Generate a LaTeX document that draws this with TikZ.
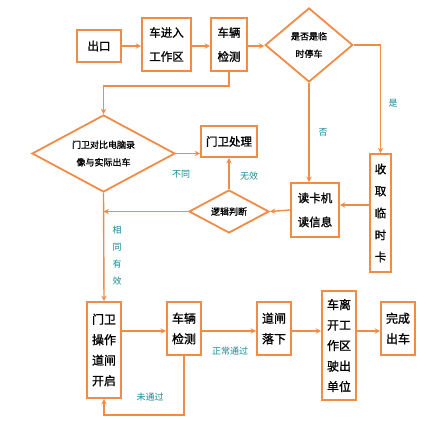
\documentclass[tikz,border=0pt]{standalone}
\usepackage{fontspec}
\setmainfont{Noto Sans CJK SC}[FakeBold=1.2]
\newfontfamily\lblfont{Noto Sans CJK SC}
\usetikzlibrary{shapes.geometric}
\definecolor{lineorange}{RGB}{240,140,70}
\definecolor{labelteal}{RGB}{20,140,150}

\begin{document}
\begin{tikzpicture}[x=1pt, y=-1pt, >=stealth,
  box/.style={draw=lineorange, line width=1.8pt, fill=white, inner sep=0pt,
    align=center, font=\fontsize{11.5}{24}\selectfont},
  tallbox/.style={box, font=\fontsize{12}{20.5}\selectfont},
  decision/.style={diamond, aspect=2, draw=lineorange, line width=1.8pt,
    fill=white, inner sep=0pt, align=center, font=\fontsize{9}{17.5}\selectfont},
  flow/.style={draw=lineorange, line width=1.4pt},
  lbl/.style={text=labelteal, font=\lblfont\fontsize{9}{11}\selectfont, align=center}]
  \fill[white] (0,0) rectangle (443,422);
  \useasboundingbox (0,0) rectangle (443,422);
  % top row
  \node[box, minimum width=44pt, minimum height=32pt] (exit) at (99,46) {出口};
  \node[box, minimum width=49pt, minimum height=53pt] (enter) at (166.5,44.5) {车进入\\工作区};
  \node[box, minimum width=36pt, minimum height=53pt] (check1) at (229,44.5) {车辆\\检测};
  \node[decision, minimum width=82pt, minimum height=74pt] (temp) at (309,45) {是否是临\\时停车};
  % middle
  \node[box, minimum width=21pt, minimum height=118pt, font=\fontsize{11.5}{22}\selectfont] (card) at (380.5,213) {收\\取\\临\\时\\卡};
  \node[box, minimum width=48pt, minimum height=54pt] (reader) at (315,210) {读卡机\\读信息};
  \node[decision, minimum width=80pt, minimum height=43pt] (logic) at (229,211.5) {逻辑判断};
  \node[box, minimum width=56pt, minimum height=31pt] (guard) at (229,141.5) {门卫处理};
  \node[decision, minimum width=143pt, minimum height=77pt] (compare) at (103.5,153.5) {门卫对比电脑录\\像与实际出车};
  % bottom row
  \node[tallbox, minimum width=34pt, minimum height=96pt] (gate) at (104,350) {门卫\\操作\\道闸\\开启};
  \node[tallbox, minimum width=34pt, minimum height=53pt] (check2) at (184,328.5) {车辆\\检测};
  \node[tallbox, minimum width=34pt, minimum height=53pt] (drop) at (274,328.5) {道闸\\落下};
  \node[tallbox, minimum width=34pt, minimum height=109pt] (leave) at (339,345.5) {车离\\开工\\作区\\驶出\\单位};
  \node[tallbox, minimum width=34pt, minimum height=53pt] (done) at (398,328.5) {完成\\出车};

  \draw[flow, ->] (exit.east) -- (exit.east -| enter.west);
  \draw[flow, ->] (enter.east |- exit) -- (check1.west |- exit);
  \draw[flow, ->] (check1.east |- exit) -- (temp.west |- exit);
  \draw[flow, ->] (temp.east) -| (card.north);
  \draw[flow, ->] (temp.south) -- (temp.south |- reader.north);
  \draw[flow, ->] (card.west |- 0,205) -- (reader.east |- 0,205);
  \draw[flow, ->] (reader.west) -- (logic.east);
  \draw[flow, ->] (logic.north) -- (guard.south);
  \draw[flow, ->] (compare.east) -- (compare.east -| guard.west);
  \draw[flow, ->] (check1.south) -- (229,86) -| (compare.north);
  \draw[flow, ->] (logic.west) -- (logic.west -| compare.south);
  \draw[flow, ->] (compare.south) -- (gate.north);
  \draw[flow, ->] (gate.east |- 0,331) -- (check2.west |- 0,331);
  \draw[flow, ->] (check2.south) -- (184,415) -| (gate.south);
  \draw[flow, ->] (check2.east |- 0,331) -- (drop.west |- 0,331);
  \draw[flow, ->] (drop.east |- 0,331) -- (leave.west |- 0,331);
  \draw[flow, ->] (leave.east |- 0,331) -- (done.west |- 0,331);

  % labels
  \node[lbl] (yes) at (393,103) {是};
  \node[lbl] (no) at (323,132) {否};
  \node[lbl] (invalid) at (249,176) {无效};
  \node[lbl] (differ) at (181,174) {不同};
  \node[lbl, font=\lblfont\fontsize{9}{17}\selectfont] (same) at (117,256) {相\\同\\有\\效};
  \node[lbl] (passed) at (230,351) {正常通过};
  \node[lbl] (failed) at (150,397) {未通过};
\end{tikzpicture}
\end{document}
